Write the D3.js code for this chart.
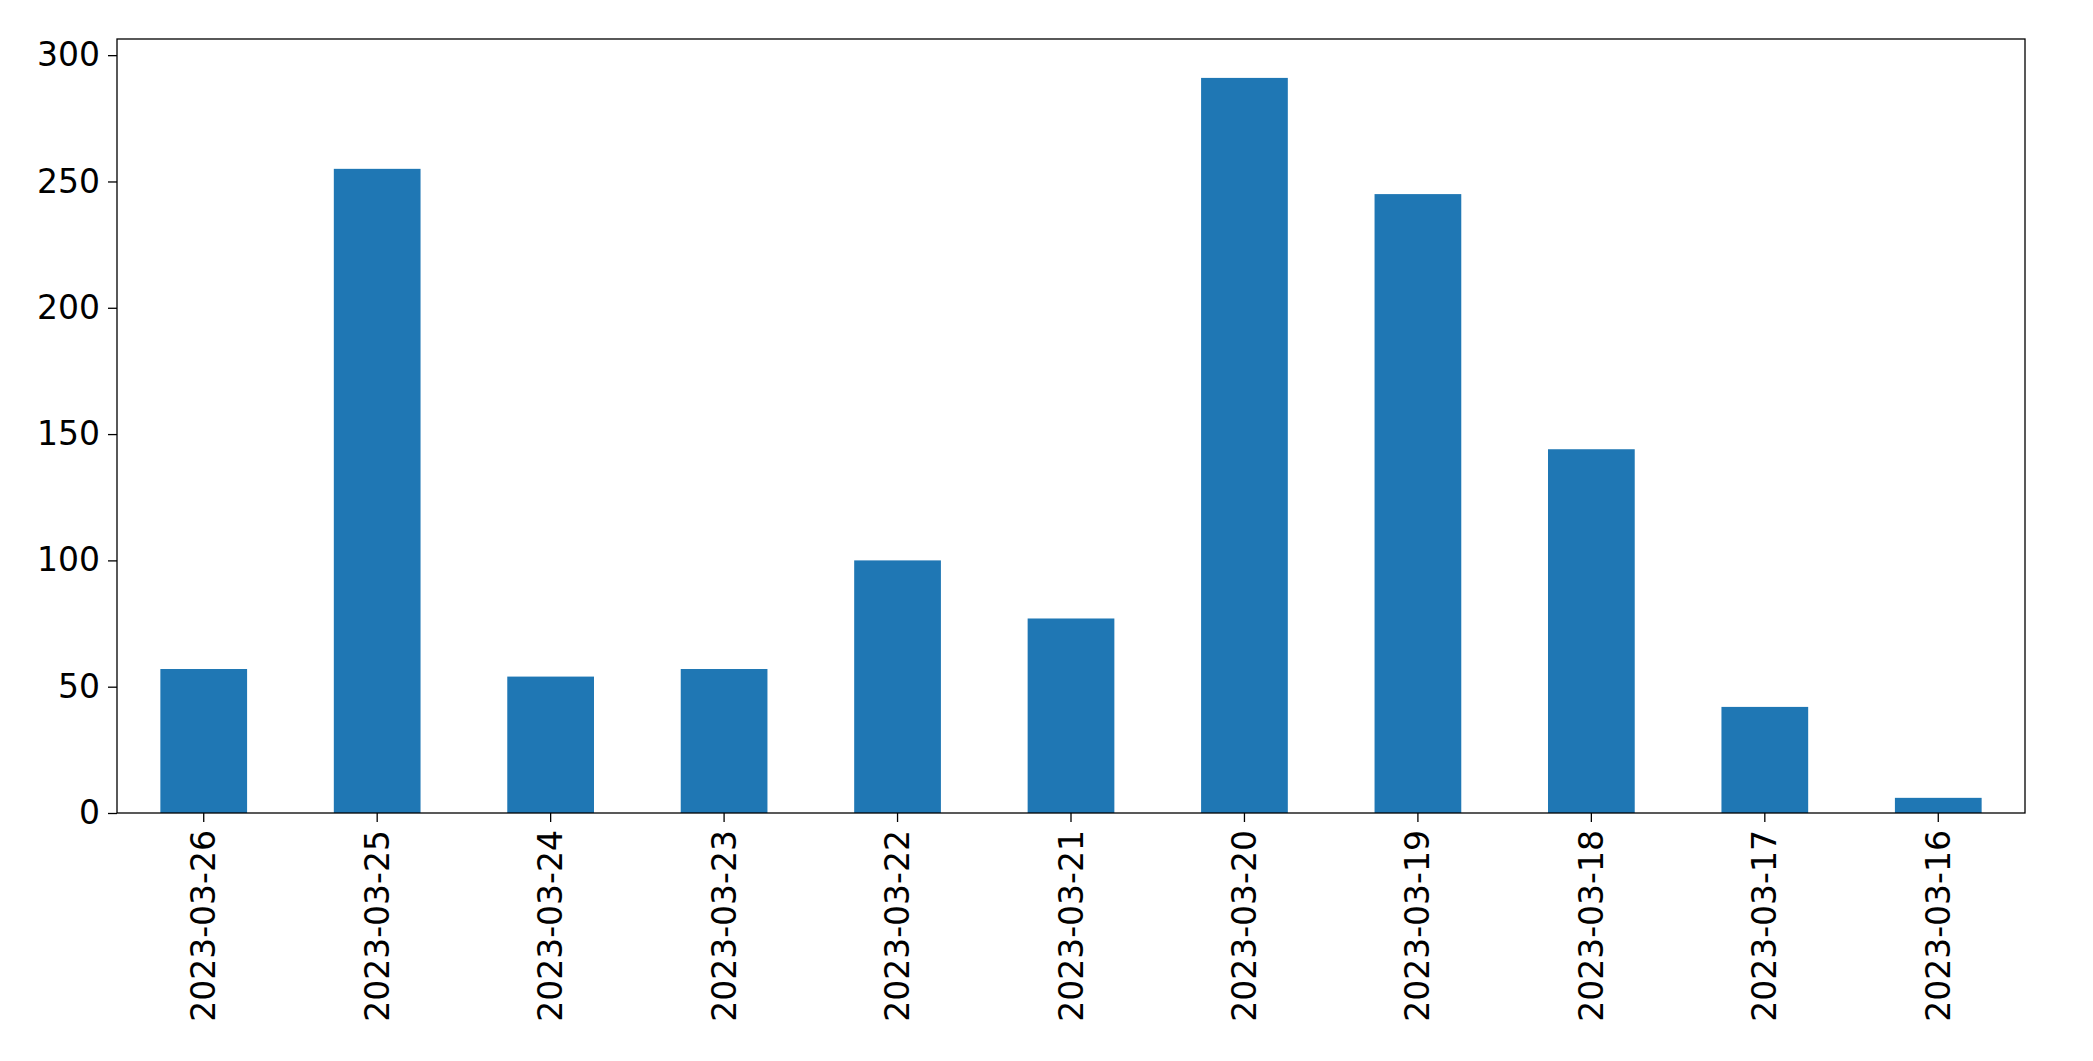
<!DOCTYPE html>
<html>
<head>
<meta charset="utf-8">
<script src="https://cdn.jsdelivr.net/npm/d3@7"></script>
<style>body{margin:0;background:#fff}</style>
</head>
<body>
<svg id="chart" width="2093" height="1061"></svg>
<script>
const dates = ["2023-03-26","2023-03-25","2023-03-24","2023-03-23","2023-03-22","2023-03-21","2023-03-20","2023-03-19","2023-03-18","2023-03-17","2023-03-16"];
const counts = [57, 255, 54, 57, 100, 77, 291, 245, 144, 42, 6];
const yTicks = [0, 50, 100, 150, 200, 250, 300];

const margin = { top: 39, right: 68, bottom: 248, left: 117 };
const width = 2093 - margin.left - margin.right;
const height = 1061 - margin.top - margin.bottom;

const svg = d3.select("#chart");
const g = svg.append("g").attr("transform", `translate(${margin.left},${margin.top})`);

const x = d3.scaleBand().domain(dates).range([0, width]).paddingInner(0.5).paddingOuter(0.25);
const y = d3.scaleLinear().domain([0, 306.4]).range([height, 0]);

g.selectAll("rect.bar")
  .data(dates)
  .enter()
  .append("rect")
  .attr("class", "bar")
  .attr("x", d => x(d))
  .attr("y", (d, i) => y(counts[i]))
  .attr("width", x.bandwidth())
  .attr("height", (d, i) => height - y(counts[i]))
  .style("fill", "#1f77b4");

const font = "DejaVu Sans";

const yAxis = g.append("g").call(d3.axisLeft(y).tickValues(yTicks).tickSize(9).tickPadding(8));
yAxis.selectAll("text").style("font-family", font).style("font-size", "33px").attr("fill", "#000");

const xAxis = g.append("g")
  .attr("transform", `translate(0,${height})`)
  .call(d3.axisBottom(x).tickSize(9).tickPadding(8));
xAxis.selectAll("text")
  .style("font-family", font).style("font-size", "33px").attr("fill", "#000")
  .attr("transform", "rotate(-90)")
  .attr("text-anchor", "end")
  .attr("x", -17).attr("y", 0).attr("dy", "0.35em");

[yAxis, xAxis].forEach(a => {
  a.select(".domain").remove();
  a.selectAll("line").attr("stroke", "#000").attr("stroke-width", 1.3);
});

g.append("rect")
  .attr("width", width).attr("height", height)
  .attr("fill", "none").attr("stroke", "#000").attr("stroke-width", 1.3);
</script>
</body>
</html>
